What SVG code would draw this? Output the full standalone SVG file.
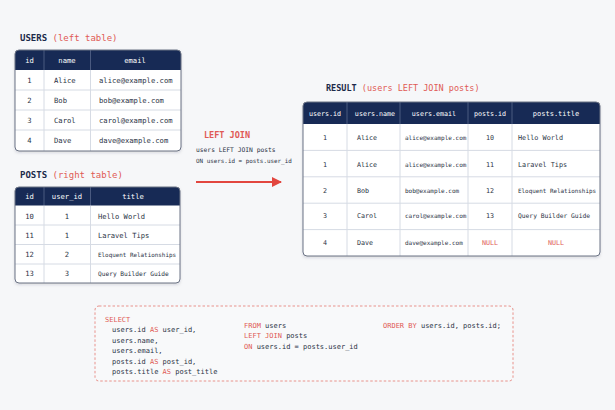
<svg xmlns="http://www.w3.org/2000/svg" width="615" height="410" viewBox="0 0 615 410">
<defs>
<filter id="sh" x="-5%" y="-5%" width="110%" height="115%">
<feDropShadow dx="0" dy="1.5" stdDeviation="1.5" flood-color="#1a2440" flood-opacity="0.18"/>
</filter>
<marker id="ah" viewBox="0 0 10 10" refX="9" refY="5" markerWidth="5" markerHeight="5" orient="auto" markerUnits="strokeWidth">
<path d="M0,0 L10,5 L0,10 Z" fill="#e2463f"/>
</marker>
</defs>
<style>
text{font-family:"DejaVu Sans Mono","Liberation Mono",monospace;fill:#2b3345;}
.t{font-size:9px;}
.b{font-weight:bold;fill:#1c2a4a;}
.r{fill:#e05a55;}
.h{fill:#ffffff;}
.c{text-anchor:middle;}
.body{fill:#ffffff;}
.hd{fill:#172a55;}
.ol{fill:none;stroke:#6a7284;stroke-width:1;}
.rl{stroke:#d6dbe4;stroke-width:1;}
.hl{stroke:#4a5a80;stroke-width:1;}
.k{fill:#e05a55;}
</style>
<rect width="615" height="410" fill="#f6f7f9"/>

<g id="users">
<text x="20" y="41" class="t"><tspan class="b">USERS</tspan><tspan class="r"> (left table)</tspan></text>
<rect x="15" y="50" width="166" height="101" rx="4" class="body" filter="url(#sh)"/>
<path d="M15,70 V54 Q15,50 19,50 H177 Q181,50 181,54 V70 Z" class="hd"/>
<line x1="15" y1="90" x2="181" y2="90" class="rl"/>
<line x1="15" y1="110" x2="181" y2="110" class="rl"/>
<line x1="15" y1="130" x2="181" y2="130" class="rl"/>
<line x1="44" y1="50" x2="44" y2="70" class="hl"/>
<line x1="90.5" y1="50" x2="90.5" y2="70" class="hl"/>
<line x1="44" y1="70" x2="44" y2="151" class="rl"/>
<line x1="90.5" y1="70" x2="90.5" y2="151" class="rl"/>
<rect x="15" y="50" width="166" height="101" rx="4" class="ol"/>
<g font-size="7.2">
<text x="29.5" y="62.8" class="h c">id</text>
<text x="67" y="62.8" class="h c">name</text>
<text x="135" y="62.8" class="h c">email</text>
<text x="29.5" y="83" class="c">1</text><text x="54" y="83">Alice</text><text x="99" y="83">alice@example.com</text>
<text x="29.5" y="103" class="c">2</text><text x="54" y="103">Bob</text><text x="99" y="103">bob@example.com</text>
<text x="29.5" y="123" class="c">3</text><text x="54" y="123">Carol</text><text x="99" y="123">carol@example.com</text>
<text x="29.5" y="143" class="c">4</text><text x="54" y="143">Dave</text><text x="99" y="143">dave@example.com</text>
</g>
</g>

<g id="posts">
<text x="20" y="178" class="t"><tspan class="b">POSTS</tspan><tspan class="r"> (right table)</tspan></text>
<rect x="15" y="187" width="165" height="96" rx="4" class="body" filter="url(#sh)"/>
<path d="M15,205.5 V191 Q15,187 19,187 H176 Q180,187 180,191 V205.5 Z" class="hd"/>
<line x1="15" y1="225" x2="180" y2="225" class="rl"/>
<line x1="15" y1="244.5" x2="180" y2="244.5" class="rl"/>
<line x1="15" y1="264" x2="180" y2="264" class="rl"/>
<line x1="44" y1="187" x2="44" y2="205.5" class="hl"/>
<line x1="90.5" y1="187" x2="90.5" y2="205.5" class="hl"/>
<line x1="44" y1="205.5" x2="44" y2="283" class="rl"/>
<line x1="90.5" y1="205.5" x2="90.5" y2="283" class="rl"/>
<rect x="15" y="187" width="165" height="96" rx="4" class="ol"/>
<g font-size="7.2">
<text x="29.5" y="198.6" class="h c">id</text>
<text x="67" y="198.6" class="h c">user_id</text>
<text x="133" y="198.6" class="h c">title</text>
<text x="29.5" y="219.3" class="c">10</text><text x="67" y="219.3" class="c">1</text><text x="98" y="219.3" font-size="7.1">Hello World</text>
<text x="29.5" y="237.9" class="c">11</text><text x="67" y="237.9" class="c">1</text><text x="98" y="237.9" font-size="7.1">Laravel Tips</text>
<text x="29.5" y="256.9" class="c">12</text><text x="67" y="256.9" class="c">2</text><text x="98" y="256.9" font-size="5.9">Eloquent Relationships</text>
<text x="29.5" y="275.9" class="c">13</text><text x="67" y="275.9" class="c">3</text><text x="98" y="275.9" font-size="6.2">Query Builder Guide</text>
</g>
</g>

<g id="join-label">
<text x="204" y="138" font-size="8.5" class="r" font-weight="bold">LEFT JOIN</text>
<text x="196" y="152" font-size="6.3">users LEFT JOIN posts</text>
<text x="196" y="162.5" font-size="5.9">ON users.id = posts.user_id</text>
</g>

<g id="connectors">
<line x1="196" y1="182" x2="281" y2="182" stroke="#e2463f" stroke-width="2" marker-end="url(#ah)"/>
</g>

<g id="result">
<text x="326" y="91" font-size="8.5"><tspan class="b">RESULT</tspan><tspan class="r"> (users LEFT JOIN posts)</tspan></text>
<rect x="303" y="102" width="297" height="154" rx="4" class="body" filter="url(#sh)"/>
<path d="M303,124 V106 Q303,102 307,102 H596 Q600,102 600,106 V124 Z" class="hd"/>
<line x1="303" y1="150.4" x2="600" y2="150.4" class="rl"/>
<line x1="303" y1="176.8" x2="600" y2="176.8" class="rl"/>
<line x1="303" y1="203.2" x2="600" y2="203.2" class="rl"/>
<line x1="303" y1="229.6" x2="600" y2="229.6" class="rl"/>
<line x1="347" y1="102" x2="347" y2="124" class="hl"/>
<line x1="400" y1="102" x2="400" y2="124" class="hl"/>
<line x1="468" y1="102" x2="468" y2="124" class="hl"/>
<line x1="512" y1="102" x2="512" y2="124" class="hl"/>
<line x1="347" y1="124" x2="347" y2="256" class="rl"/>
<line x1="400" y1="124" x2="400" y2="256" class="rl"/>
<line x1="468" y1="124" x2="468" y2="256" class="rl"/>
<line x1="512" y1="124" x2="512" y2="256" class="rl"/>
<rect x="303" y="102" width="297" height="154" rx="4" class="ol"/>
<g font-size="6.7">
<text x="325" y="116" class="h c">users.id</text>
<text x="375" y="116" class="h c">users.name</text>
<text x="434" y="116" class="h c">users.email</text>
<text x="490" y="116" class="h c">posts.id</text>
<text x="556" y="116" class="h c" font-size="7">posts.title</text>

<text x="325" y="140" class="c">1</text><text x="357" y="140">Alice</text><text x="405" y="140" font-size="6">alice@example.com</text><text x="490" y="140" class="c">10</text><text x="518" y="140" font-size="6.8">Hello World</text>
<text x="325" y="166.6" class="c">1</text><text x="357" y="166.6">Alice</text><text x="405" y="166.6" font-size="6">alice@example.com</text><text x="490" y="166.6" class="c">11</text><text x="518" y="166.6" font-size="6.8">Laravel Tips</text>
<text x="325" y="193" class="c">2</text><text x="357" y="193">Bob</text><text x="405" y="193" font-size="6">bob@example.com</text><text x="490" y="193" class="c">12</text><text x="518" y="193" font-size="5.9">Eloquent Relationships</text>
<text x="325" y="218.4" class="c">3</text><text x="357" y="218.4">Carol</text><text x="405" y="218.4" font-size="6">carol@example.com</text><text x="490" y="218.4" class="c">13</text><text x="518" y="218.4" font-size="6.3">Query Builder Guide</text>
<text x="325" y="245" class="c">4</text><text x="357" y="245">Dave</text><text x="405" y="245" font-size="6">dave@example.com</text><text x="490" y="245" class="c r">NULL</text><text x="556" y="245" class="c r">NULL</text>
</g>
</g>

<g id="sql">
<rect x="95" y="306" width="418" height="75" rx="4" fill="#f8f9fa" stroke="#e8928c" stroke-width="1" stroke-dasharray="2.5 2"/>
<g font-size="7">
<text x="105" y="321.5" class="k">SELECT</text>
<text x="112" y="332"><tspan>users.id </tspan><tspan class="k">AS</tspan><tspan> user_id,</tspan></text>
<text x="112" y="342.5">users.name,</text>
<text x="112" y="353">users.email,</text>
<text x="112" y="363.5"><tspan>posts.id </tspan><tspan class="k">AS</tspan><tspan> post_id,</tspan></text>
<text x="112" y="374"><tspan>posts.title </tspan><tspan class="k">AS</tspan><tspan> post_title</tspan></text>
<text x="244" y="327.5"><tspan class="k">FROM</tspan><tspan> users</tspan></text>
<text x="244" y="338"><tspan class="k">LEFT JOIN</tspan><tspan> posts</tspan></text>
<text x="244" y="348.5"><tspan class="k">ON</tspan><tspan> users.id = posts.user_id</tspan></text>
<text x="383" y="327.5"><tspan class="k">ORDER BY</tspan><tspan> users.id, posts.id;</tspan></text>
</g>
</g>
</svg>
